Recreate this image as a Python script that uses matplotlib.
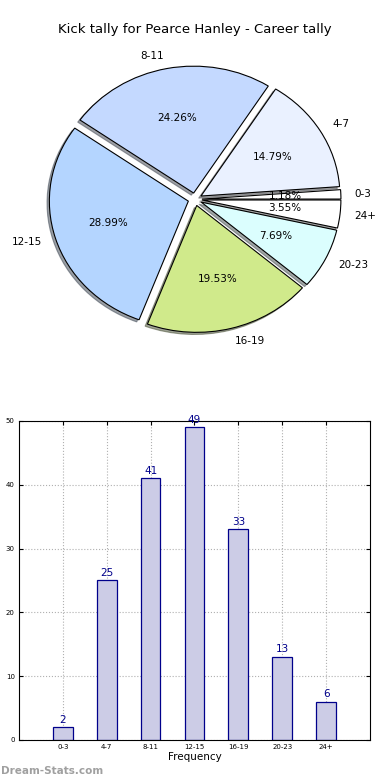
import numpy as np
import matplotlib
matplotlib.use('Agg')
import matplotlib.pyplot as plt

# kick tally data
categories = ['0-3', '4-7', '8-11', '12-15', '16-19', '20-23', '24+']
counts = [2, 25, 41, 49, 33, 13, 6]
pie_colors = ['#ffffff', '#eaf1ff', '#c4d9ff', '#b4d5ff', '#d0ea8b', '#dbfefe', '#ffffff']
title = 'Kick tally for Pearce Hanley - Career tally'

fig = plt.figure(figsize=(3.9, 7.8), dpi=100)

# pie chart on top
ax1 = fig.add_axes([0.0, 0.533, 1.0, 0.423])
wedges, texts, autotexts = ax1.pie(counts, labels=categories, colors=pie_colors,
                                   explode=[0.05] * len(counts),
                                   shadow={'ox': -0.012, 'oy': -0.012},
                                   autopct='%1.2f%%', startangle=0,
                                   wedgeprops={'edgecolor': 'black', 'linewidth': 0.8},
                                   textprops={'fontsize': 7.5})
ax1.set_aspect('auto')
ax1.set_xlim(-1.403, 1.403)
ax1.set_ylim(-1.3, 1.3)
ax1.axis('off')
fig.text(0.5, 0.962, title, ha='center', va='center', fontsize=9.5)

# bar chart below
ax2 = fig.add_axes([0.0487, 0.0513, 0.9, 0.409])
x = np.arange(len(categories))
ax2.bar(x, counts, width=0.45, color='#ccccE6', edgecolor='#00008b', linewidth=0.9, zorder=2)
for xi, c in zip(x, counts):
    ax2.text(xi, c + 0.4, str(c), ha='center', va='bottom', color='#00008b', fontsize=7.5)
ax2.set_xlim(-1, 7)
ax2.set_ylim(0, 50)
ax2.set_xticks(x)
ax2.set_xticklabels(categories)
ax2.set_yticks([0, 10, 20, 30, 40, 50])
ax2.tick_params(direction='in', top=True, right=True, labelsize=5, length=3, pad=3)
ax2.grid(True, linestyle=':', color='#b0b0b0', linewidth=0.8, zorder=0)
ax2.set_axisbelow(True)
ax2.set_xlabel('Frequency', fontsize=7.5, labelpad=1)

fig.text(0.002, 0.012, 'Dream-Stats.com', fontsize=7.5, fontweight='bold', color='#a0a0a0',
         ha='left', va='center')

fig.savefig('out.png', dpi=100)
